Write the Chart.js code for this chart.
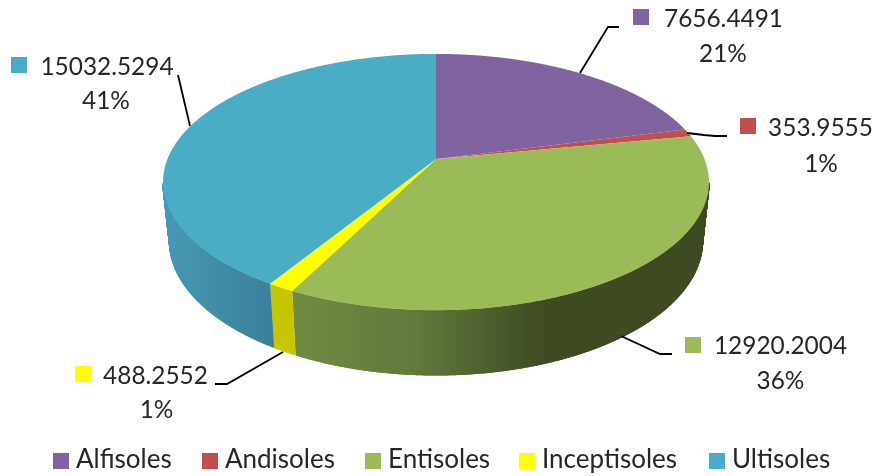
<!DOCTYPE html>
<html>
<head>
<meta charset="utf-8">
<style>html,body{margin:0;padding:0;background:#fff}canvas{display:block}</style>
<script src="https://cdn.jsdelivr.net/npm/chart.js@4"></script>
</head>
<body>
<canvas id="c" width="877" height="476"></canvas>
<script>
const categories = ['Alfisoles', 'Andisoles', 'Entisoles', 'Inceptisoles', 'Ultisoles'];
const values = [7656.4491, 353.9555, 12920.2004, 488.2552, 15032.5294];
const percents = ['21%', '1%', '36%', '1%', '41%'];
const topColors = ['#8064a2', '#c0504d', '#9bbb59', '#ffff00', '#4bacc6'];

// Perspective of the tilted disc: maps a point on the unit circle to the page.
const topFace = {cx: 436, y0: 159, a: 124, b: 268.5, k: 0.18};
const bottomFace = {cx: 436, y0: 217, a: 130, b: 262, k: 0.18};
const wallStops = [
  [[0, '#64507f'], [1, '#64507f']],
  [[0, '#96403c'], [1, '#96403c']],
  [[0, '#738c42'], [0.3, '#61793a'], [0.6, '#3f4b23'], [1, '#3e4a22']],
  [[0, '#c6c600'], [1, '#c6c600']],
  [[0, '#4699b5'], [1, '#3b809c']]
];
const labelLayout = [
  {sq: [633, 9], tx: 723.5, ty: 27, px: 723, py: 62, line: [[580, 73], [608, 27], [619, 27]]},
  {sq: [740, 118], tx: 820.5, ty: 135.5, px: 821, py: 172, line: [[687, 133], [704, 135], [715, 136], [727, 136]]},
  {sq: [685, 337], tx: 780.5, ty: 354, px: 780.5, py: 389, line: [[621, 336], [660, 354], [672, 354]]},
  {sq: [75, 366], tx: 155.5, ty: 384, px: 156.5, py: 418, line: [[283, 352], [227, 384], [215, 384]]},
  {sq: [11, 57], tx: 107, ty: 75, px: 106, py: 109, line: [[190, 126], [178, 75]]}
];
const legendX = [53, 202, 365, 519, 709];
const legendY = 453, legendSize = 16, legendGap = 7, legendBaseline = 468;
const labelFont = '24.4px Lato', legendFont = '26px Lato', textColor = '#262626';

function project(face, angle) {
  const t = angle + Math.PI / 2, u = Math.sin(t), v = Math.cos(t), w = 1 / (1 + face.k * v);
  return [face.cx + face.b * u * w, face.y0 - face.a * v * w];
}
function sampleAngles(a0, a1) {
  const n = Math.max(2, Math.ceil(Math.abs(a1 - a0) / 0.004)), out = [];
  for (let i = 0; i <= n; i++) out.push(a0 + (a1 - a0) * i / n);
  return out;
}
function fillPoly(ctx, pts, style) {
  ctx.beginPath();
  pts.forEach((p, i) => i ? ctx.lineTo(p[0], p[1]) : ctx.moveTo(p[0], p[1]));
  ctx.closePath();
  ctx.fillStyle = style;
  ctx.fill();
}

const pie3d = {
  id: 'pie3d',
  beforeDatasetDraw(chart) {
    const ctx = chart.ctx, arcs = chart.getDatasetMeta(0).data;
    ctx.save();
    // side walls: only the part of the rim that faces the viewer
    arcs.forEach((arc, i) => {
      const front = sampleAngles(arc.startAngle, arc.endAngle)
        .filter(a => Math.cos(a + Math.PI / 2) <= -topFace.k);
      if (front.length < 2) return;
      const top = front.map(a => project(topFace, a));
      const bot = front.map(a => project(bottomFace, a));
      const xs = top.concat(bot).map(p => p[0]);
      const x0 = Math.min(...xs), x1 = Math.max(...xs);
      const g = ctx.createLinearGradient(x0, 0, x1, 0);
      wallStops[i].forEach(s => g.addColorStop(s[0], s[1]));
      fillPoly(ctx, top.concat(bot.slice().reverse()), g);
      ctx.strokeStyle = g;
      ctx.lineWidth = 1.5;
      ctx.lineCap = 'butt';
      for (let j = 1; j < top.length - 1; j++) {
        ctx.beginPath();
        ctx.moveTo(top[j][0], top[j][1]);
        ctx.lineTo(bot[j][0], bot[j][1]);
        ctx.stroke();
      }
    });
    // top faces
    arcs.forEach((arc, i) => {
      const rimPts = sampleAngles(arc.startAngle, arc.endAngle).map(a => project(topFace, a));
      fillPoly(ctx, [[topFace.cx, topFace.y0]].concat(rimPts), topColors[i]);
    });
    ctx.restore();
    return false;
  },
  afterDraw(chart) {
    const ctx = chart.ctx;
    ctx.save();
    ctx.font = labelFont;
    ctx.textBaseline = 'alphabetic';
    labelLayout.forEach((l, i) => {
      ctx.beginPath();
      l.line.forEach((p, j) => j ? ctx.lineTo(p[0], p[1]) : ctx.moveTo(p[0], p[1]));
      ctx.strokeStyle = '#000';
      ctx.lineWidth = 1.8;
      ctx.stroke();
      ctx.fillStyle = topColors[i];
      ctx.fillRect(l.sq[0], l.sq[1], legendSize, legendSize);
      ctx.fillStyle = textColor;
      ctx.textAlign = 'center';
      ctx.fillText(values[i].toFixed(4), l.tx, l.ty);
      ctx.fillText(percents[i], l.px, l.py);
    });
    ctx.font = legendFont;
    ctx.textAlign = 'left';
    categories.forEach((name, i) => {
      ctx.fillStyle = topColors[i];
      ctx.fillRect(legendX[i], legendY, legendSize, legendSize);
      ctx.fillStyle = textColor;
      ctx.fillText(name, legendX[i] + legendSize + legendGap, legendBaseline);
    });
    ctx.restore();
  }
};

new Chart(document.getElementById('c'), {
  type: 'pie',
  data: {
    labels: categories,
    datasets: [{data: values, backgroundColor: topColors, borderWidth: 0}]
  },
  options: {
    responsive: false,
    animation: false,
    plugins: {legend: {display: false}, tooltip: {enabled: false}}
  },
  plugins: [pie3d]
});
</script>
</body>
</html>
